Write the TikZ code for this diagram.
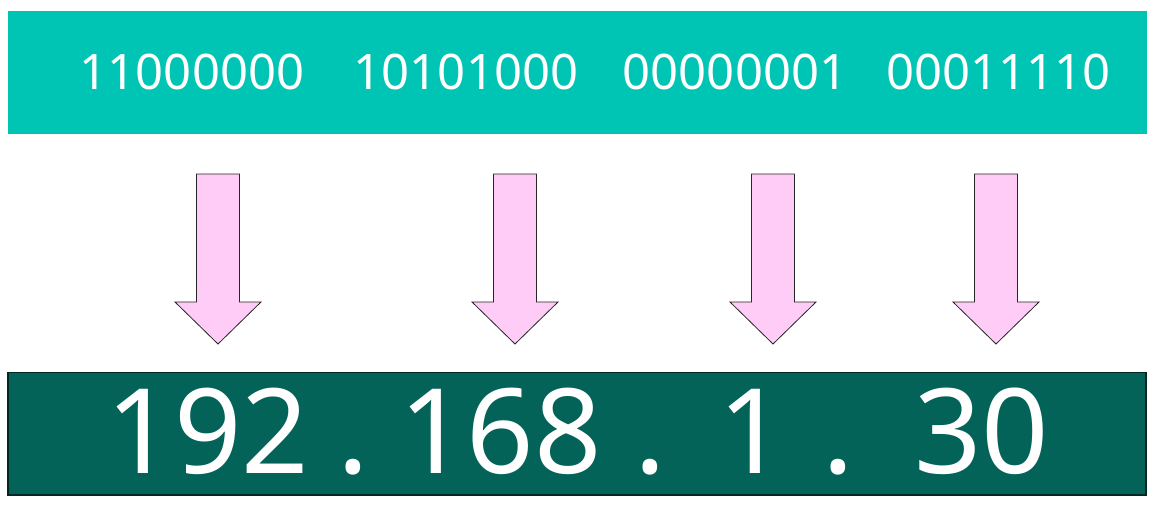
\documentclass[tikz,border=0pt]{standalone}
\usepackage{fontspec}
\setmainfont{Noto Sans}
\usepackage{tikz}

\definecolor{lightteal}{HTML}{00C4B4}
\definecolor{darkteal}{HTML}{036358}
\definecolor{pinkfill}{HTML}{FFCCF8}

\begin{document}
\begin{tikzpicture}[x=1pt,y=-1pt,
  bits/.style={text=white,anchor=base,inner sep=0pt,font=\fontsize{49}{50}\selectfont},
  decimal/.style={text=white,anchor=base,inner sep=0pt,font=\fontsize{118}{120}\selectfont},
  blockarrow/.style={draw=black!85,fill=pinkfill,line width=0.8pt,line join=miter}]
\useasboundingbox (0,0) rectangle (1155,508);
\fill[lightteal] (8,11) rectangle (1147,134);
\draw[darkteal!40!black,fill=darkteal,line width=1.2pt] (8,372.5) rectangle (1146,495);

\node[bits] (bin1) at (192,90) {11000000};
\node[bits] (bin2) at (466,90) {10101000};
\node[bits] (bin3) at (735,90) {00000001};
\node[bits] (bin4) at (998.5,90) {00011110};

\foreach \x in {218,515,773,996}
  \draw[blockarrow] (\x-21.5,174) -- (\x+21.5,174) -- (\x+21.5,302) -- (\x+43,302)
    -- (\x,344) -- (\x-43,302) -- (\x-21.5,302) -- cycle;

\node[decimal] (dec1) at (208,473) {192};
\node[decimal] (dot1) at (353,473) {.};
\node[decimal] (dec2) at (500.5,473) {168};
\node[decimal] (dot2) at (650,473) {.};
\node[decimal] (dec3) at (752,473) {1};
\node[decimal] (dot3) at (838,473) {.};
\node[decimal] (dec4) at (981.5,473) {30};

\end{tikzpicture}
\end{document}
